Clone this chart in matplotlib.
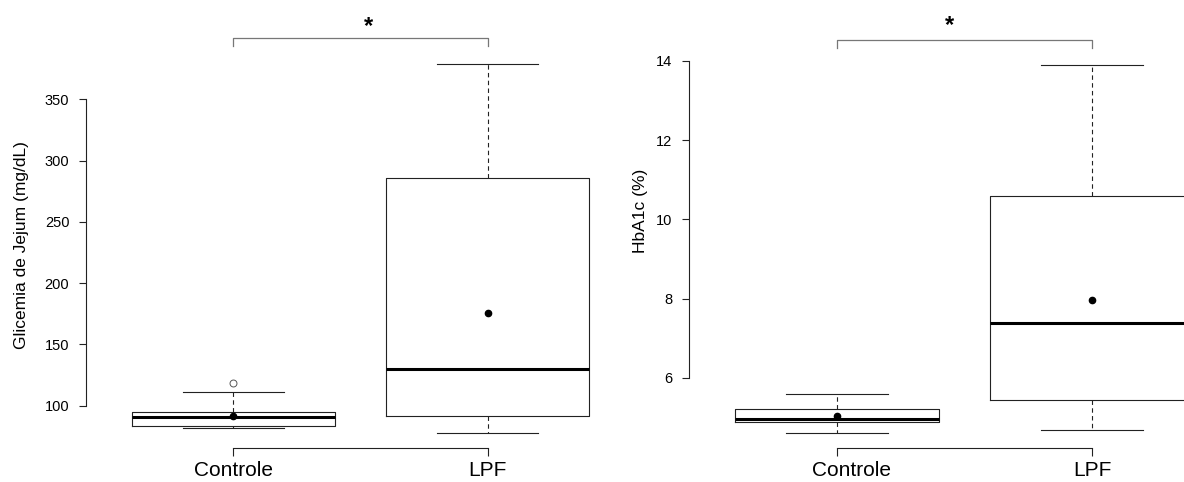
import numpy as np
import matplotlib
matplotlib.use("Agg")
import matplotlib.pyplot as plt
import matplotlib.transforms as mtransforms

plt.rcParams["font.family"] = ["Liberation Sans", "DejaVu Sans"]

GROUPS = ["Controle", "LPF"]

# Glicemia de jejum (mg/dL)
glic_q1 = [83.7, 91.6]
glic_med = [90.5, 130.0]
glic_q3 = [95.1, 285.5]
glic_lo = [81.6, 77.5]
glic_hi = [111.4, 378.5]
glic_mean = [91.6, 175.9]
glic_out = [[118.5], []]
glic_ticks = [100, 150, 200, 250, 300, 350]

# HbA1c (%)
hba_q1 = [4.88, 5.44]
hba_med = [4.95, 7.38]
hba_q3 = [5.22, 10.59]
hba_lo = [4.60, 4.68]
hba_hi = [5.59, 13.91]
hba_mean = [5.04, 7.96]
hba_out = [[], []]
hba_ticks = [6, 8, 10, 12, 14]

W, H = 1184, 482


def make_stats(q1, med, q3, lo, hi, mean, out):
    """Собирает словари для ax.bxp."""
    stats = []
    for i in range(len(GROUPS)):
        stats.append({"label": GROUPS[i], "q1": q1[i], "med": med[i], "q3": q3[i],
                      "whislo": lo[i], "whishi": hi[i], "mean": mean[i],
                      "fliers": np.array(out[i])})
    return stats


def draw_box(ax, stats, ticks, ylim, bracket, ylabel, label_xy):
    ax.bxp(stats, positions=[1, 2], widths=0.8, showmeans=True,
           boxprops=dict(color="#222222", linewidth=0.8),
           medianprops=dict(color="black", linewidth=2.2),
           whiskerprops=dict(color="#222222", linewidth=0.8, linestyle=(0, (4, 3))),
           capprops=dict(color="#222222", linewidth=0.8),
           capwidths=0.4,
           meanprops=dict(marker="o", markerfacecolor="black", markeredgecolor="black",
                          markersize=4.5),
           flierprops=dict(marker="o", markerfacecolor="white", markeredgecolor="#555555",
                           markersize=5, markeredgewidth=0.7))
    ax.set_xlim(0.42, 2.58)
    ax.set_ylim(*ylim)
    ax.set_yticks(ticks)
    ax.set_yticklabels([str(t) for t in ticks], fontsize=10.5)
    ax.set_xticks([1, 2])
    ax.set_xticklabels(GROUPS, fontsize=15)
    for s in ["top", "right"]:
        ax.spines[s].set_visible(False)
    ax.spines["left"].set_bounds(ticks[0], ticks[-1])
    ax.spines["bottom"].set_bounds(1, 2)
    for s in ["left", "bottom"]:
        ax.spines[s].set_linewidth(0.8)
        ax.spines[s].set_color("#222222")
    ax.tick_params(axis="y", length=5, width=0.8, color="#222222", pad=7)
    ax.tick_params(axis="x", length=5.5, width=0.8, color="#222222", pad=4)

    # colchete de significancia
    y_top, y_tick, x_star, y_star = bracket
    ax.plot([1, 1, 2, 2], [y_tick, y_top, y_top, y_tick], color="#777777",
            linewidth=0.9, clip_on=False)
    ax.text(x_star, y_star, "*", ha="center", va="center", fontsize=17,
            fontweight="bold", clip_on=False)

    ax.figure.text(label_xy[0] / W, 1 - label_xy[1] / H, ylabel, rotation=90,
                   ha="center", va="center", fontsize=12.5)


fig = plt.figure(figsize=(W / 100, H / 100), dpi=100)

ax1 = fig.add_axes([86 / W, 1 - 448 / H, 549 / W, 398.3 / H])
draw_box(ax1, make_stats(glic_q1, glic_med, glic_q3, glic_lo, glic_hi, glic_mean, glic_out),
         glic_ticks, (65.5, 390.5), (400, 393.5, 1.53, 409.5),
         "Glicemia de Jejum (mg/dL)", (22, 245))

ax2 = fig.add_axes([689 / W, 1 - 448 / H, 551 / W, 398.3 / H])
draw_box(ax2, make_stats(hba_q1, hba_med, hba_q3, hba_lo, hba_hi, hba_mean, hba_out),
         hba_ticks, (4.227, 14.285), (14.53, 14.33, 1.44, 14.89),
         "HbA1c (%)", (640, 211))

# rotulo "Controle" do segundo painel esta um pouco deslocado
lab = ax2.get_xticklabels()[0]
lab.set_transform(lab.get_transform() + mtransforms.ScaledTranslation(15 / 100, 0, fig.dpi_scale_trans))

fig.savefig("out.png", dpi=100)
